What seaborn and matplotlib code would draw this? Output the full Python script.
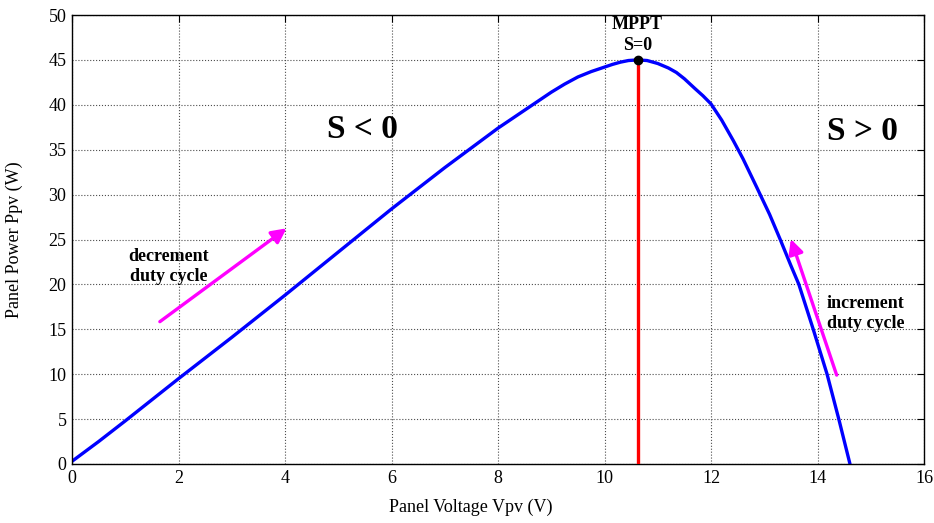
import pandas as pd
import matplotlib
matplotlib.use('Agg')
import matplotlib.pyplot as plt
import seaborn as sns

# =========================
# DANE
# =========================

voltage = [0, 0.5, 1, 2, 3, 4, 5, 6, 7, 8, 8.25, 8.5, 8.75, 9, 9.25, 9.5,
           9.75, 10, 10.15, 10.3, 10.45, 10.62, 10.8, 11.0, 11.2, 11.35,
           11.5, 11.7, 11.85, 12.0, 12.2, 12.42, 12.6, 12.86, 13.1, 13.3,
           13.5, 13.65, 13.92, 14.18, 14.4, 14.61]
power = [0.3, 2.5, 4.8, 9.5, 14.1, 18.8, 23.6, 28.4, 33.0, 37.4, 38.4, 39.4,
         40.4, 41.4, 42.3, 43.1, 43.7, 44.2, 44.5, 44.75, 44.93, 45.0, 44.93,
         44.6, 44.1, 43.6, 42.9, 41.8, 41.0, 40.1, 38.3, 36.0, 34.0, 30.8,
         27.8, 25.0, 22.1, 20.0, 15.0, 10.0, 5.0, 0.0]

mpp_v = 10.62
mpp_p = 45.0

x_ticks = [0, 2, 4, 6, 8, 10, 12, 14, 16]
y_ticks = [0, 5, 10, 15, 20, 25, 30, 35, 40, 45, 50]

df = pd.DataFrame({'Vpv': voltage, 'Ppv': power})

# =========================
# STYL
# =========================

sns.set_style('white')
plt.rcParams['font.family'] = ['Liberation Serif', 'DejaVu Serif']
plt.rcParams['text.color'] = 'black'
plt.rcParams['axes.labelcolor'] = 'black'
plt.rcParams['xtick.color'] = 'black'
plt.rcParams['ytick.color'] = 'black'
plt.rcParams['xtick.direction'] = 'in'
plt.rcParams['ytick.direction'] = 'in'

fig = plt.figure(figsize=(9.34, 5.23), dpi=100)
ax = fig.add_axes([72 / 934, 1 - 464 / 523, 852 / 934, 449 / 523])

# krzywa P-V
sns.lineplot(data=df, x='Vpv', y='Ppv', color='#0000ff', linewidth=2.4,
             ax=ax, sort=False)

# punkt MPPT
ax.plot([mpp_v, mpp_v], [0, mpp_p], color='#ff0000', linewidth=2.4, zorder=3)
ax.plot([mpp_v], [mpp_p], 'o', color='black', markersize=6, zorder=4)

ax.text(mpp_v, 47.75, 'MPPT\nS=0', ha='center', va='center',
        fontsize=13, fontweight='bold', linespacing=1.3)

ax.text(5.45, 37.2, 'S < 0', ha='center', va='center', fontsize=24,
        fontweight='bold')
ax.text(14.84, 37.0, 'S > 0', ha='center', va='center', fontsize=24,
        fontweight='bold')

# strzałki
arrow = dict(arrowstyle='-|>', color='#ff00ff', lw=2.4, mutation_scale=22,
             shrinkA=0, shrinkB=0)
ax.annotate('', xy=(4.03, 26.25), xytext=(1.65, 15.85), arrowprops=arrow)
ax.annotate('', xy=(13.50, 25.05), xytext=(14.36, 9.9), arrowprops=arrow)

ax.text(1.82, 22.0, 'decrement\nduty cycle', ha='center', va='center',
        fontsize=13, fontweight='bold', linespacing=1.2)
ax.text(14.9, 16.76, 'increment\nduty cycle', ha='center', va='center',
        fontsize=13, fontweight='bold', linespacing=1.2)

# osie
ax.set_xlim(0, 16)
ax.set_ylim(0, 50)
ax.set_xticks(x_ticks)
ax.set_yticks(y_ticks)
ax.tick_params(labelsize=13, top=True, right=True, length=5, width=0.8,
               pad=4, colors='black')
ax.grid(True, linestyle=':', color='0.3', linewidth=0.8)
for s in ax.spines.values():
    s.set_visible(True)
    s.set_color('black')
    s.set_linewidth(1.0)

ax.set_xlabel('Panel Voltage Vpv (V)', fontsize=13)
ax.set_ylabel('Panel Power Ppv (W)', fontsize=13)
ax.xaxis.set_label_coords(0.468, -0.078)
ax.yaxis.set_label_coords(-0.058, 0.5)

fig.savefig('out.png', dpi=100)
